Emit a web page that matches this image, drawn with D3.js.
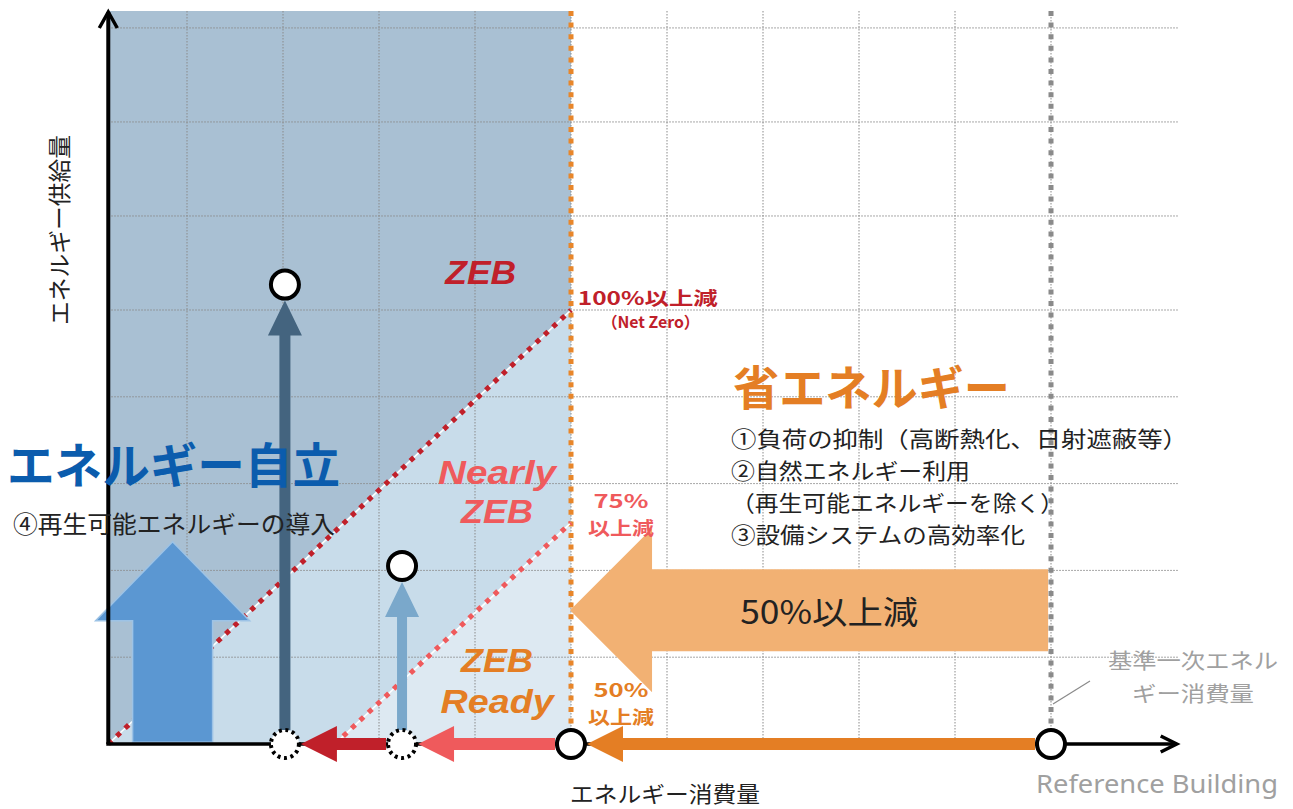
<!DOCTYPE html>
<html><head><meta charset="utf-8">
<script src="https://cdn.jsdelivr.net/npm/d3@7"></script>
<style>body{margin:0;background:#fff}svg{display:block}</style>
</head><body><svg id="c" width="1293" height="809"></svg>
<script>
// ---------------- data ----------------
const consumptionTicks = [10,20,30,40,50,60,70,80,90,100];   // vertical grid lines (% of reference consumption)
const supplyTicks = [10,20,30,40,50,60,70,80];               // horizontal grid lines (supply units)
const axisOrigin = [1.8, 0];
const xMax = 113.2, yMax = 81.8;
const referenceX = 100;          // Reference Building
const halfX = 50;                // 50% reduction
const zebLine = [[1.8,0],[50,50]];        // 100% reduction (net zero)
const nearlyLine = [[25.4,0],[50,25.5]];  // 75% reduction
const solidPoints = [[50,0],[100,0],[32.4,20.5],[20.2,52.7]];
const dashedPoints = [[20.2,0],[32.4,0]];
const xArrows = [ {from:100, to:50, color:"#E47E24"}, {from:50, to:32.4, color:"#EF5A5C"}, {from:32.4, to:20.2, color:"#C0202A"} ];
const yArrows = [ {x:20.2, to:52.7, color:"#44647F", w:11}, {x:32.4, to:20.5, color:"#7AA8CB", w:10} ];
const bigUp = {x:8.5, base:0.2, tip:23.3};
const bigLeft = {y:15.4, from:99.7, tip:49.9, labelX:76.9};
const zoneLabels = [ {lines:["ZEB"], x:40.6, y:[54], len:[71]}, {lines:["Nearly","ZEB"], x:42.3, y:[31.3,26.8], len:[118,72]}, {lines:["ZEB","Ready"], x:42.3, y:[9.7,4.9], len:[72,113]} ];
const reductionLabels = [ {lines:["100%以上減"], x:50.7, y:[51.4], anchor:"start", len:[140]}, {lines:["75%","以上減"], x:55.2, y:[28.1,25], len:[55,66]}, {lines:["50%","以上減"], x:55.2, y:[6.3,3.2], len:[55,66]} ];
const measures = ["①負荷の抑制（高断熱化、日射遮蔽等）","②自然エネルギー利用","（再生可能エネルギーを除く）","③設備システムの高効率化"];
const measureLen = [457,239,333,294];
const refLabel = ["基準一次エネル","ギー消費量"];
const refLabelLen = [170,122];

// ---------------- scales ----------------
const x = d3.scaleLinear().domain([0,100]).range([91,1051]);
const y = d3.scaleLinear().domain([0,50,yMax]).range([744,310,11]);
const svg = d3.select("#c");
const JP = "'Noto Sans CJK JP','Noto Sans',sans-serif";
const P = p => [x(p[0]), y(p[1])];
const fit = (sel,len,mode) => sel.attr("textLength",len).attr("lengthAdjust",mode||"spacingAndGlyphs");
// multi-line text as one <text> with tspans
function multi(lines, xs, ys, lens, opts){
  const t = svg.append("text").attr("font-family",opts.family||JP).attr("font-size",opts.size).attr("fill",opts.fill)
    .attr("font-weight",opts.weight||"normal").attr("font-style",opts.style||"normal").attr("text-anchor",opts.anchor||"middle");
  lines.forEach((s,j)=>{
    const ts = t.append("tspan").attr("x",xs).attr("y",ys[j]).attr("dominant-baseline","central").text(s);
    if (lens) fit(ts,lens[j],opts.mode);
  });
  return t;
}

// ---------------- shaded zones ----------------
const [x0,y0] = P(axisOrigin);
svg.append("polygon").attr("points",[P([axisOrigin[0],yMax]),P([halfX,yMax]),P(zebLine[1]),P(zebLine[0])].join(" ")).attr("fill","#A9C0D3");
svg.append("polygon").attr("points",[P(zebLine[0]),P(zebLine[1]),P([halfX,0])].join(" ")).attr("fill","#C8DCEA");
svg.append("polygon").attr("points",[P(nearlyLine[0]),P(nearlyLine[1]),P([halfX,0])].join(" ")).attr("fill","#DDE9F2");

// ---------------- grid ----------------
const grid = svg.append("g").attr("stroke","#8a8a8a").attr("stroke-width",1).attr("stroke-dasharray","1.5,1.5");
grid.selectAll("line.v").data(consumptionTicks).join("line").attr("class","v")
  .attr("x1",d=>x(d)).attr("x2",d=>x(d)).attr("y1",y(yMax)).attr("y2",y(0));
grid.selectAll("line.h").data(supplyTicks).join("line").attr("class","h")
  .attr("x1",x(axisOrigin[0])).attr("x2",x(xMax)).attr("y1",d=>y(d)).attr("y2",d=>y(d));

// threshold verticals
svg.append("line").attr("x1",x(halfX)).attr("x2",x(halfX)).attr("y1",y(yMax)).attr("y2",y(0))
  .attr("stroke","#E8862A").attr("stroke-width",5).attr("stroke-dasharray","5,6.6");
svg.append("line").attr("x1",x(referenceX)).attr("x2",x(referenceX)).attr("y1",y(yMax)).attr("y2",y(0)-12)
  .attr("stroke","#8a8a8a").attr("stroke-width",5).attr("stroke-dasharray","5,6.6");

// diagonal lines
function dotted(seg,color){
  svg.append("line").attr("x1",x(seg[0][0])).attr("y1",y(seg[0][1])).attr("x2",x(seg[1][0])).attr("y2",y(seg[1][1]))
    .attr("stroke","#fff").attr("stroke-width",1.6);
  svg.append("line").attr("x1",x(seg[0][0])).attr("y1",y(seg[0][1])).attr("x2",x(seg[1][0])).attr("y2",y(seg[1][1]))
    .attr("stroke",color).attr("stroke-width",5).attr("stroke-dasharray","5,6.5");
}
dotted(zebLine,"#C0202A");
dotted(nearlyLine,"#EF5A5C");

// ---------------- big block arrows ----------------
{
  const cx = x(bigUp.x), yb = y(bigUp.base), yt = y(bigUp.tip), hb = yt+79;
  svg.append("polygon").attr("points",[[cx,yt],[cx+77,hb],[cx+40,hb],[cx+40,yb],[cx-40,yb],[cx-40,hb],[cx-77,hb]].join(" "))
    .attr("fill","#5B97D2").attr("stroke","#9DC3E6").attr("stroke-width",1.5);
}
{
  const cy = y(bigLeft.y), xt = x(bigLeft.tip), xr = x(bigLeft.from), hb = xt+82;
  svg.append("polygon").attr("points",[[xt,cy],[hb,cy-82],[hb,cy-41],[xr,cy-41],[xr,cy+41],[hb,cy+41],[hb,cy+82]].join(" "))
    .attr("fill","#F2B173");
  fit(svg.append("text").attr("x",x(bigLeft.labelX)).attr("y",cy).attr("text-anchor","middle").attr("dominant-baseline","central")
    .attr("font-family",JP).attr("font-size",32).attr("fill","#222").text("50%以上減"),178);
}

// ---------------- axes ----------------
svg.append("line").attr("x1",x0).attr("y1",y0).attr("x2",x0).attr("y2",y(yMax)+1).attr("stroke","#000").attr("stroke-width",4);
svg.append("polyline").attr("points",[[x0-9,y(yMax)+17],[x0,y(yMax)+1],[x0+9,y(yMax)+17]].join(" ")).attr("fill","none").attr("stroke","#000").attr("stroke-width",3.5);
svg.append("line").attr("x1",x0-2).attr("y1",y0).attr("x2",x(xMax)-2).attr("y2",y0).attr("stroke","#000").attr("stroke-width",3.5);
svg.append("polyline").attr("points",[[x(xMax)-17,y0-8],[x(xMax)-1,y0],[x(xMax)-17,y0+8]].join(" ")).attr("fill","none").attr("stroke","#000").attr("stroke-width",3.5);

// ---------------- small arrows ----------------
const R = 14;
xArrows.forEach(a=>{
  const xs = x(a.from)-R-2, xt = x(a.to)+R+2, hb = xt+36;
  svg.append("polygon").attr("points",[[xt,y0],[hb,y0-18],[hb,y0-6],[xs,y0-6],[xs,y0+6],[hb,y0+6],[hb,y0+18]].join(" ")).attr("fill",a.color);
});
yArrows.forEach(a=>{
  const cx = x(a.x), ys = y0-R, yt = y(a.to)+R+2, hb = yt+35, w = a.w/2;
  svg.append("polygon").attr("points",[[cx,yt],[cx+17,hb],[cx+w,hb],[cx+w,ys],[cx-w,ys],[cx-w,hb],[cx-17,hb]].join(" ")).attr("fill",a.color);
});

// points
svg.selectAll("circle.s").data(solidPoints).join("circle").attr("class","s")
  .attr("cx",d=>x(d[0])).attr("cy",d=>y(d[1])).attr("r",R).attr("fill","#fff").attr("stroke","#000").attr("stroke-width",4);
svg.selectAll("circle.d").data(dashedPoints).join("circle").attr("class","d")
  .attr("cx",d=>x(d[0])).attr("cy",d=>y(d[1])).attr("r",R).attr("fill","#fff").attr("stroke","#000").attr("stroke-width",4).attr("stroke-dasharray","3,3.6");

// ---------------- labels ----------------
const zoneColors = ["#C0202A","#EF5A5C","#E47E24"];
zoneLabels.forEach((z,i)=>multi(z.lines, x(z.x), z.y.map(y), z.len,
  {family:"'Liberation Sans',Arial,sans-serif", size:34, fill:zoneColors[i], weight:"bold", style:"italic"}));
reductionLabels.forEach((z,i)=>multi(z.lines, x(z.x), z.y.map(y), z.len,
  {size:18.5, fill:zoneColors[i], weight:"bold", anchor:z.anchor||"middle"}));
fit(svg.append("text").attr("x",x(58.3)).attr("y",y(48.7)).attr("text-anchor","middle").attr("dominant-baseline","central")
  .attr("font-family",JP).attr("font-weight","bold").attr("font-size",16).attr("fill","#C0202A").text("（Net Zero）"),98);

fit(svg.append("text").attr("x",733).attr("y",384).attr("dominant-baseline","central").attr("font-family",JP)
  .attr("font-weight","bold").attr("font-size",47).attr("fill","#E47E24").text("省エネルギー"),277);
multi(measures, 731, measures.map((d,i)=>437+i*32), measureLen, {size:22, fill:"#222", anchor:"start", mode:"spacingAndGlyphs"});

fit(svg.append("text").attr("x",7).attr("y",462).attr("dominant-baseline","central").attr("font-family",JP)
  .attr("font-weight","bold").attr("font-size",48).attr("fill","#0B5CAD").text("エネルギー自立"),333);
fit(svg.append("text").attr("x",13).attr("y",522).attr("dominant-baseline","central").attr("font-family",JP)
  .attr("font-size",24).attr("fill","#222").text("④再生可能エネルギーの導入"),322);

fit(svg.append("text").attr("transform","translate(58,230) rotate(-90)").attr("text-anchor","middle").attr("dominant-baseline","central")
  .attr("font-family",JP).attr("font-size",23).attr("fill","#222").text("エネルギー供給量"),190);
fit(svg.append("text").attr("x",665).attr("y",792).attr("text-anchor","middle").attr("dominant-baseline","central")
  .attr("font-family",JP).attr("font-size",22).attr("fill","#222").text("エネルギー消費量"),190);
fit(svg.append("text").attr("x",1157).attr("y",783).attr("text-anchor","middle").attr("dominant-baseline","central")
  .attr("font-family","'Noto Sans',sans-serif").attr("font-size",25).attr("fill","#A0A0A0").text("Reference Building"),242);
multi(refLabel, 1193, [659,692], refLabelLen, {size:21, fill:"#A0A0A0"});
svg.append("line").attr("x1",x(referenceX)+2).attr("y1",704).attr("x2",1090).attr("y2",681).attr("stroke","#8a8a8a").attr("stroke-width",1.2);
</script></body></html>
